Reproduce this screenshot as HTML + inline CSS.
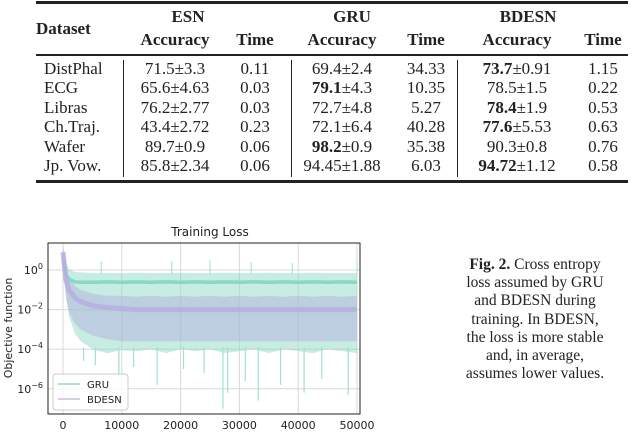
<!DOCTYPE html>
<html><head><meta charset="utf-8"><style>
body{margin:0;background:#fff;width:640px;height:436px;position:relative;overflow:hidden;font-family:"Liberation Serif",serif;}
.t{position:absolute;font-size:17px;color:#222;white-space:nowrap;transform:translate(-50%,-50%);}
.l{transform:translate(0,-50%);}
.b{font-weight:bold;}
.rule{position:absolute;left:36px;width:592px;background:#222;}
.vb{position:absolute;width:1px;background:#222;top:60px;height:117px;}
#cap{position:absolute;left:428px;top:256px;width:214px;text-align:center;font-size:15.5px;line-height:18.2px;color:#222;}
</style></head><body>
<div>
<div class="rule" style="top:1px;height:3px"></div>
<div class="rule" style="top:54px;height:1.5px"></div>
<div class="rule" style="top:180px;height:3px"></div>
<div class="vb" style="left:123px"></div>
<div class="vb" style="left:291px"></div>
<div class="vb" style="left:457px"></div>
<div id="tbl"></div>
</div>
<svg id="chart" width="640" height="436" style="position:absolute;left:0;top:0" font-family="'DejaVu Sans',sans-serif"></svg>
<div id="cap"><b>Fig. 2.</b> Cross entropy<br>loss assumed by GRU<br>and BDESN during<br>training. In BDESN,<br>the loss is more stable<br>and, in average,<br>assumes lower values.</div>
<script>
const datasets=["DistPhal","ECG","Libras","Ch.Traj.","Wafer","Jp. Vow."];
const esnAcc=[["71.5","3.3"],["65.6","4.63"],["76.2","2.77"],["43.4","2.72"],["89.7","0.9"],["85.8","2.34"]];
const esnTime=["0.11","0.03","0.03","0.23","0.06","0.06"];
const gruAcc=[["69.4","2.4"],["79.1","4.3"],["72.7","4.8"],["72.1","6.4"],["98.2","0.9"],["94.45","1.88"]];
const gruTime=["34.33","10.35","5.27","40.28","35.38","6.03"];
const bdAcc=[["73.7","0.91"],["78.5","1.5"],["78.4","1.9"],["77.6","5.53"],["90.3","0.8"],["94.72","1.12"]];
const bdTime=["1.15","0.22","0.53","0.63","0.76","0.58"];
const gruBold=[false,true,false,false,true,false];
const bdBold=[true,false,true,true,false,true];
const rowY=[69,88,108,127,147,166];
const tbl=document.getElementById('tbl');
function cell(txt,x,y,cls,name){const d=document.createElement('div');d.className='t '+(cls||'');d.style.left=x+'px';d.style.top=y+'px';d.innerHTML=txt;


tbl.appendChild(d);}
cell('Dataset',36,29,'l b','header-dataset');
cell('ESN',188,17,'b','header-esn');cell('GRU',352,17,'b','header-gru');cell('BDESN',528,17,'b','header-bdesn');
[[175,255],[342,426],[517,603]].forEach((c,i)=>{cell('Accuracy',c[0],40,'b','header-accuracy');cell('Time',c[1],40,'b','header-time');});
datasets.forEach((d,i)=>{const y=rowY[i];
cell(d,44,y,'l','row-label');
cell(esnAcc[i][0]+'±'+esnAcc[i][1],175,y,'','esn-accuracy');
cell(esnTime[i],255,y,'','esn-time');
cell((gruBold[i]?'<b>'+gruAcc[i][0]+'</b>':gruAcc[i][0])+'±'+gruAcc[i][1],342,y,'','gru-accuracy');
cell(gruTime[i],426,y,'','gru-time');
cell((bdBold[i]?'<b>'+bdAcc[i][0]+'</b>':bdAcc[i][0])+'±'+bdAcc[i][1],517,y,'','bdesn-accuracy');
cell(bdTime[i],603,y,'','bdesn-time');});

// chart data (log10 of loss)
const steps=[0,500,1000,2000,3000,5000,7500,10000,12500,15000,17500,20000,22500,25000,27500,30000,32500,35000,37500,40000,42500,45000,47500,50000];
const gruHigh=[1.3,0.4,0.05,-0.1,-0.12,-0.15,-0.15,-0.15,-0.14,-0.15,-0.15,-0.14,-0.15,-0.15,-0.14,-0.15,-0.15,-0.14,-0.15,-0.15,-0.14,-0.15,-0.15,-0.15];
const gruMean=[0.5,-0.2,-0.45,-0.6,-0.62,-0.62,-0.6,-0.62,-0.6,-0.62,-0.6,-0.62,-0.6,-0.62,-0.6,-0.62,-0.6,-0.62,-0.6,-0.62,-0.6,-0.62,-0.6,-0.62];
const gruLow=[0.3,-1.2,-2.3,-3.2,-3.6,-4,-4.2,-4.05,-4.1,-4,-4.2,-4,-4.1,-4,-4.2,-4.1,-4,-4.2,-4,-4.1,-4.2,-4,-4.1,-4.2];
const spikeSteps=[3500,5500,9500,12000,16000,20500,24000,27200,28000,31000,33200,37000,41000,44000,48500];
const spikeLow=[-4.6,-4.8,-5.4,-4.9,-5.8,-5.0,-5.2,-7.0,-6.2,-5.6,-6.6,-5.8,-6.2,-5.5,-6.3];
const upSteps=[6500,18500,25000,32000,39000,50000];
const upHigh=[0.45,0.45,0.5,0.4,0.35,0.4];
const bdHigh=[1.1,0.1,-0.4,-0.8,-1.0,-1.2,-1.3,-1.3,-1.35,-1.3,-1.35,-1.3,-1.35,-1.3,-1.35,-1.3,-1.35,-1.3,-1.35,-1.3,-1.35,-1.3,-1.35,-1.3];
const bdMean=[0.9,-0.5,-1.0,-1.4,-1.6,-1.8,-1.9,-1.95,-2,-2,-2,-2,-2,-2,-2,-2,-2,-2,-2,-2,-2,-2,-2,-2];
const bdLow=[0.2,-1.4,-2.1,-2.7,-3.0,-3.3,-3.5,-3.6,-3.6,-3.6,-3.6,-3.6,-3.6,-3.6,-3.6,-3.6,-3.6,-3.6,-3.6,-3.6,-3.6,-3.6,-3.6,-3.6];
const xTicks=[0,10000,20000,30000,40000,50000];
const yTicks=[0,-2,-4,-6];

const svg=document.getElementById('chart');const NS='http://www.w3.org/2000/svg';
const L=48,R=360,T=243,B=414;
const xs=v=>63+v*(357-63)/50000;
const ys=v=>270-v*19.8;
function mk(tag,attrs,parent){const e=document.createElementNS(NS,tag);for(const k in attrs)e.setAttribute(k,attrs[k]);(parent||svg).appendChild(e);return e;}
const clip=mk('clipPath',{id:'cp'});mk('rect',{x:L,y:T,width:R-L,height:B-T},clip);
xTicks.forEach(t=>{const g=mk('line',{x1:xs(t),x2:xs(t),y1:T,y2:B,stroke:'#d8d8d8','stroke-width':1});


const tl=mk('text',{x:xs(t),y:429,'font-size':11,'text-anchor':'middle',fill:'#222'});tl.textContent=t;

});
yTicks.forEach(t=>{const g=mk('line',{x1:L,x2:R,y1:ys(t),y2:ys(t),stroke:'#d8d8d8','stroke-width':1});


const tl=mk('text',{x:43,y:ys(t)+4,'font-size':11,'text-anchor':'end',fill:'#222'});tl.innerHTML='10<tspan dy="-5" font-size="8">'+(t===0?'0':'−'+(-t))+'</tspan>';

});
const gp=mk('g',{'clip-path':'url(#cp)'});
function band(hi,lo,color,op,name){let d='M'+steps.map((s,i)=>xs(s)+','+ys(hi[i])).join('L')+'L'+steps.slice().reverse().map((s,j)=>xs(s)+','+ys(lo[steps.length-1-j])).join('L')+'Z';
const p=mk('path',{d:d,fill:color,'fill-opacity':op},gp);

}
function line(arr,color,w,op,name){const p=mk('path',{d:'M'+steps.map((s,i)=>xs(s)+','+ys(arr[i])).join('L'),fill:'none',stroke:color,'stroke-width':w,'stroke-opacity':op},gp);

}
band(gruHigh,gruLow,'#8fdcc8',0.5,'gru-band');
spikeSteps.forEach((s,i)=>{const l=mk('line',{x1:xs(s),x2:xs(s),y1:ys(-3.9),y2:ys(spikeLow[i]),stroke:'#9fe0cf','stroke-width':1.2},gp);

});
upSteps.forEach((s,i)=>{const l=mk('line',{x1:xs(s),x2:xs(s),y1:ys(-0.2),y2:ys(upHigh[i]),stroke:'#9fe0cf','stroke-width':1},gp);

});
band(bdHigh,bdLow,'#b3b4dd',0.55,'bdesn-band');
line(gruMean,'#7fd6c0',3.5,0.9,'gru-line');
line(bdMean,'#b7aee0',5,0.85,'bdesn-line');
mk('rect',{x:L,y:T,width:R-L,height:B-T,fill:'none',stroke:'#222','stroke-width':1});
const ti=mk('text',{x:210,y:236,'font-size':12,'text-anchor':'middle',fill:'#222'});ti.textContent='Training Loss';


const yl=mk('text',{x:0,y:0,'font-size':11,'text-anchor':'middle',fill:'#222',transform:'translate(12,328) rotate(-90)'});yl.textContent='Objective function';


const lg=mk('g',{});


mk('rect',{x:53,y:374,width:75,height:36,rx:3,fill:'#fff','fill-opacity':0.8,stroke:'#ccc'},lg);
mk('line',{x1:58,x2:80,y1:384,y2:384,stroke:'#8fdcc8','stroke-width':1.5},lg);
mk('line',{x1:58,x2:80,y1:399,y2:399,stroke:'#c3bde6','stroke-width':1.5},lg);
const t1=mk('text',{x:87,y:388,'font-size':10,fill:'#222'},lg);t1.textContent='GRU';
const t2=mk('text',{x:87,y:403,'font-size':10,fill:'#222'},lg);t2.textContent='BDESN';
</script>
</body></html>
